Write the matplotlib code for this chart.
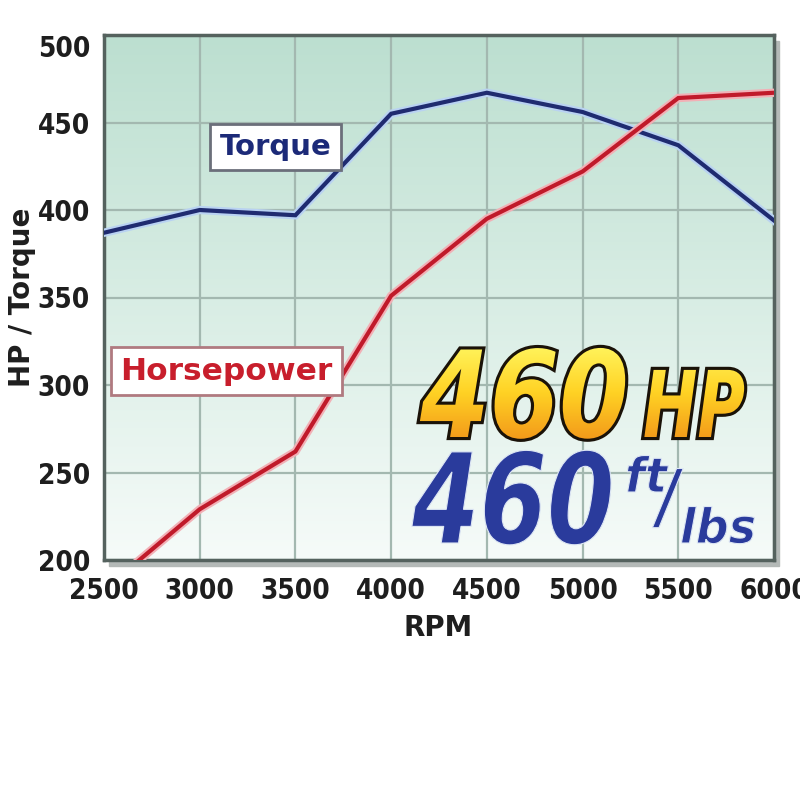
import numpy as np
import matplotlib
matplotlib.use('Agg')
from matplotlib import pyplot as plt
from matplotlib.colors import LinearSegmentedColormap
from matplotlib.textpath import TextPath
from matplotlib.font_manager import FontProperties
from matplotlib.patches import PathPatch, Rectangle
from matplotlib.transforms import Affine2D
import matplotlib.patheffects as pe

# values
rpm = [2500, 3000, 3500, 4000, 4500, 5000, 5500, 6000]
torque = [387, 400, 397, 455, 467, 456, 437, 394]
horsepower = [183, 229, 262, 351, 395, 422, 464, 467]
y_ticks = [200, 250, 300, 350, 400, 450, 500]

W, H = 800, 796

fig = plt.figure(figsize=(W / 100, H / 100), dpi=100)
ax = fig.add_axes([104 / W, 1 - 560 / H, (774 - 104) / W, (560 - 35) / H])
ax.set_xlim(2500, 6000)
ax.set_ylim(200, 500)

# drop shadow behind the plot frame
fig.patches.append(Rectangle((109 / W, 1 - 566 / H), (774 - 104) / W, (560 - 35) / H,
                             transform=fig.transFigure, color='#b4b9b7', zorder=-1))

# green -> white background
bg = LinearSegmentedColormap.from_list('bg', ['#f6fbf9', '#d8ede4', '#bcdfd0'])
ax.imshow(np.linspace(0, 1, 256).reshape(-1, 1), extent=[2500, 6000, 200, 500],
          origin='lower', aspect='auto', cmap=bg, zorder=0)

ax.set_xticks(rpm)
ax.set_yticks(y_ticks)
ax.grid(color='#a3b8b0', lw=1.6)
ax.set_axisbelow(True)
for s in ax.spines.values():
    s.set_color('#55625e')
    s.set_linewidth(2.5)
ax.tick_params(length=0, labelsize=20, labelcolor='#1e1e1e')
ax.tick_params(axis='y', pad=10)
ax.tick_params(axis='x', pad=12)
for lbl in ax.get_xticklabels() + ax.get_yticklabels():
    lbl.set_fontweight('bold')
    lbl.set_fontstretch('condensed')
ax.get_yticklabels()[-1].set_va('top')

ax.plot(rpm, torque, color='#1f2b70', lw=3, zorder=3, solid_joinstyle='miter',
        path_effects=[pe.Stroke(linewidth=6, foreground='#b9d2f2'), pe.Normal()])
ax.plot(rpm, horsepower, color='#c01a2a', lw=3, zorder=3, solid_joinstyle='miter',
        path_effects=[pe.Stroke(linewidth=6, foreground='#f2b0b6'), pe.Normal()])

ax.text(3395, 436, 'Torque', color='#1c2a78', fontsize=21, fontweight='bold',
        ha='center', va='center', zorder=4,
        bbox=dict(boxstyle='square,pad=0.32', fc='white', ec='#6b6f7a', lw=2))
ax.text(3140, 308, 'Horsepower', color='#c81e2c', fontsize=22.5, fontweight='bold',
        ha='center', va='center', zorder=4,
        bbox=dict(boxstyle='square,pad=0.3', fc='white', ec='#b07a80', lw=2))

fig.text(22 / W, 1 - 297 / H, 'HP / Torque', rotation=90, ha='center', va='center',
         fontsize=20, fontweight='bold', color='#1e1e1e')
fig.text(438 / W, 1 - 628 / H, 'RPM', ha='center', va='center',
         fontsize=20, fontweight='bold', color='#1e1e1e')

# big stamped numbers, drawn as paths so they can be squeezed and gradient-filled
fp = FontProperties(family='DejaVu Sans', weight='bold', style='italic')


def word(s, x, base, sx, sy, **kw):
    path = TextPath((0, 0), s, size=1, prop=fp)
    tr = Affine2D().scale(sx, sy).translate(x, H - base)
    patch = PathPatch(path, transform=tr, **kw)
    ax.add_patch(patch)
    return patch


gold = LinearSegmentedColormap.from_list('gold', ['#f39a1a', '#ffd224', '#fff45c'])
inv = ax.transData.inverted()
gx0, gy0 = inv.transform((400, H - 440))
gx1, gy1 = inv.transform((770, H - 345))
for s, x, sx, sy in [('460', 420, 100, 120), ('HP', 643, 65, 92)]:
    p = word(s, x, 437, sx, sy, fc='#f5b020', ec='#1a1208', lw=4.5, zorder=5)
    im = ax.imshow(np.linspace(0, 1, 64).reshape(-1, 1), extent=[gx0, gx1, gy0, gy1],
                   origin='lower', aspect='auto', cmap=gold, zorder=6)
    im.set_clip_path(p)

blue = '#2a3b9c'
word('460', 412, 543, 97, 125, fc=blue, ec='#dde6f4', lw=0.8, zorder=5)
word('ft', 625, 492, 46, 48, fc=blue, ec='#dde6f4', lw=0.8, zorder=5)
word('/', 658, 521, 58, 72, fc=blue, ec='#dde6f4', lw=0.8, zorder=5)
word('lbs', 680, 543, 46, 48, fc=blue, ec='#dde6f4', lw=0.8, zorder=5)

ax.set_xlim(2500, 6000)
ax.set_ylim(200, 500)
fig.savefig('out.png', dpi=100)
